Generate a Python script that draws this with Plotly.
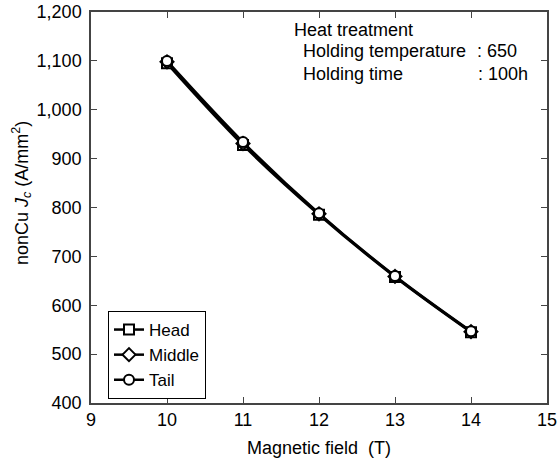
import plotly.graph_objects as go

field = [10, 11, 12, 13, 14]
head = [1095, 928, 785, 658, 545]
middle = [1098, 931, 787, 659, 546]
tail = [1100, 934, 788, 660, 547]

series = [("Head", head, "square"), ("Middle", middle, "diamond"), ("Tail", tail, "circle")]

L, R, T, B = 91, 547, 12, 403
W, H = 559, 459

fig = go.Figure()
for name, vals, sym in series:
    fig.add_trace(go.Scatter(
        x=field, y=vals, name=name, mode="lines+markers",
        line=dict(color="black", width=2.5, shape="spline"),
        marker=dict(symbol=sym, size=10, color="white", line=dict(color="black", width=2)),
    ))

font = dict(family="Liberation Sans, Arial, sans-serif", color="black")
fig.update_layout(
    template="none",
    width=W, height=H,
    margin=dict(l=L, r=W - R, t=T, b=H - B, autoexpand=False),
    plot_bgcolor="white", paper_bgcolor="white",
    font=dict(**font, size=18),
    showlegend=True,
    separators=".,",
    legend=dict(x=(108 - L) / (R - L), y=(B - 311) / (B - T), xanchor="left", yanchor="top",
                bordercolor="black", borderwidth=1, bgcolor="white",
                font=dict(**font, size=17), tracegroupgap=0, itemwidth=30),
)
fig.update_xaxes(range=[9, 15], dtick=1, ticks="inside", ticklen=6, tickcolor="#444",
                 showline=True, linecolor="#444", linewidth=1.5, mirror="ticks",
                 showgrid=False, zeroline=False, automargin=False,
                 tickfont=dict(**font, size=18))
fig.update_yaxes(range=[400, 1200], dtick=100, ticks="inside", ticklen=6, tickcolor="#444",
                 tickformat=",d", ticklabelstandoff=4,
                 showline=True, linecolor="#444", linewidth=1.5, mirror="ticks",
                 showgrid=False, zeroline=False, automargin=False,
                 tickfont=dict(**font, size=18))

fig.add_annotation(text="Magnetic field  (T)", xref="paper", yref="paper",
                   x=0.5, y=(B - 448) / (B - T), xanchor="center", yanchor="middle",
                   showarrow=False, font=dict(**font, size=18))
fig.add_annotation(text="nonCu <i>J</i><sub><i>c</i></sub> (A/mm<sup>2</sup>)",
                   xref="paper", yref="paper", textangle=-90,
                   x=(21 - L) / (R - L), y=(B - 193) / (B - T), xanchor="center", yanchor="middle",
                   showarrow=False, font=dict(**font, size=18))

notes = [
    ("Heat treatment", 292, 30),
    ("Holding temperature", 301, 51),
    (": 650", 475, 51),
    ("Holding time", 301, 74),
    (": 100h", 476, 74),
]
for txt, px, py in notes:
    fig.add_annotation(text=txt, xref="paper", yref="paper",
                       x=(px - L) / (R - L), y=(B - py) / (B - T),
                       xanchor="left", yanchor="middle", showarrow=False,
                       font=dict(**font, size=18))

fig.write_html("out.html")
